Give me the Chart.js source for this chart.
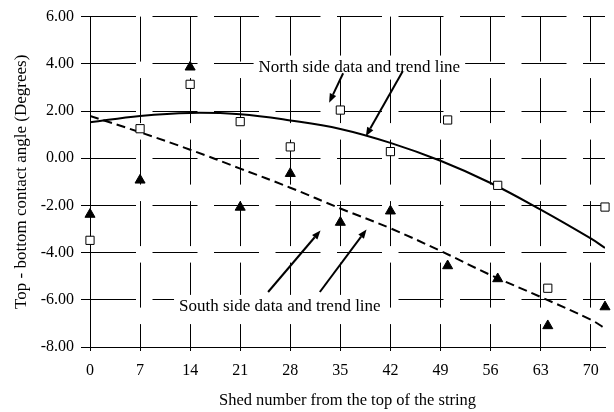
<!DOCTYPE html>
<html>
<head>
<meta charset="utf-8">
<script src="https://cdn.jsdelivr.net/npm/chart.js@4.4.1/dist/chart.umd.min.js"></script>
<style>
html,body{margin:0;padding:0;background:#fff;}
#wrap{width:614px;height:412px;}
</style>
</head>
<body>
<div id="wrap"><canvas id="c" width="614" height="412"></canvas></div>
<script>
// ---- data ----
const shedNumbers = [0, 7, 14, 21, 28, 35, 42, 50, 57, 64, 72];
const northValues = [-3.48, 1.25, 3.13, 1.55, 0.48, 2.04, 0.28, 1.62, -1.15, -5.51, -2.07];
const southValues = [-2.38, -0.93, 3.86, -2.08, -0.65, -2.72, -2.24, -4.56, -5.11, -7.10, -6.30];

const trendX = [0, 7, 14, 21, 28, 35, 42, 49, 56, 63, 70, 72];
const northTrend = [1.52, 1.79, 1.92, 1.86, 1.60, 1.24, 0.65, -0.11, -1.05, -2.18, -3.40, -3.80];
const southTrend = [1.79, 1.10, 0.36, -0.44, -1.25, -2.13, -2.97, -3.93, -4.95, -5.88, -6.84, -7.21];

const xTickLabels = [0, 7, 14, 21, 28, 35, 42, 49, 56, 63, 70];
const yTickLabels = [6, 4, 2, 0, -2, -4, -6, -8];

const xTitle = 'Shed number from the top of the string';
const yTitle = 'Top - bottom contact angle (Degrees)';

const noteTexts = ['North side data and trend line', 'South side data and trend line'];
const notePos = [[37.66, 3.84], [26.54, -6.30]];
const arrowStarts = [[35.39, 3.60], [43.70, 3.67], [24.90, -5.67], [32.13, -5.67]];
const arrowTips = [[33.43, 2.35], [38.56, 0.925], [32.23, -3.06], [38.66, -3.02]];

// ---- build chart ----
const FONT = '"Liberation Serif", "Times New Roman", serif';
const pts = (xs, ys) => xs.map((x, i) => ({x: x, y: ys[i]}));

const notesPlugin = {
  id: 'notes',
  beforeDatasetsDraw(chart) {
    const {ctx, scales: {x, y}} = chart;
    ctx.save();
    ctx.font = '17px ' + FONT;
    noteTexts.forEach((t, i) => {
      const px = x.getPixelForValue(notePos[i][0]);
      const py = y.getPixelForValue(notePos[i][1]);
      const w = ctx.measureText(t).width;
      ctx.fillStyle = '#fff';
      ctx.fillRect(px - w / 2 - 5, py - 12, w + 10, 24);
      ctx.fillStyle = '#000';
      ctx.textAlign = 'center';
      ctx.textBaseline = 'middle';
      ctx.fillText(t, px, py);
    });
    ctx.restore();
  },
  afterDatasetsDraw(chart) {
    const {ctx, scales: {x, y}} = chart;
    ctx.save();
    ctx.strokeStyle = '#000';
    ctx.fillStyle = '#000';
    ctx.lineWidth = 2;
    arrowStarts.forEach((s, i) => {
      const x1 = x.getPixelForValue(s[0]), y1 = y.getPixelForValue(s[1]);
      const x2 = x.getPixelForValue(arrowTips[i][0]), y2 = y.getPixelForValue(arrowTips[i][1]);
      const ang = Math.atan2(y2 - y1, x2 - x1);
      const hl = 9, hw = 3.5;
      const bx = x2 - hl * Math.cos(ang), by = y2 - hl * Math.sin(ang);
      ctx.beginPath();
      ctx.moveTo(x1, y1);
      ctx.lineTo(bx, by);
      ctx.stroke();
      ctx.beginPath();
      ctx.moveTo(x2, y2);
      ctx.lineTo(bx + hw * Math.sin(ang), by - hw * Math.cos(ang));
      ctx.lineTo(bx - hw * Math.sin(ang), by + hw * Math.cos(ang));
      ctx.closePath();
      ctx.fill();
    });
    ctx.restore();
  }
};

const gridOpts = (tl) => ({color: '#000', lineWidth: 1, tickLength: tl, tickBorderDash: [], tickColor: '#000'});
const borderOpts = {display: true, color: '#000', width: 1, dash: [45, 16.5], dashOffset: 0};

new Chart(document.getElementById('c'), {
  type: 'scatter',
  data: {
    datasets: [
      {
        label: 'North side',
        data: pts(shedNumbers, northValues),
        pointStyle: 'rect',
        pointRadius: 5.8,
        pointBackgroundColor: '#fff',
        pointBorderColor: '#000',
        pointBorderWidth: 1,
        showLine: false,
        clip: false,
        order: 0
      },
      {
        label: 'South side',
        data: pts(shedNumbers, southValues),
        pointStyle: 'triangle',
        pointRadius: 5.8,
        pointBackgroundColor: '#000',
        pointBorderColor: '#000',
        pointBorderWidth: 1,
        showLine: false,
        clip: false,
        order: 0
      },
      {
        label: 'North trend',
        data: pts(trendX, northTrend),
        showLine: true,
        borderColor: '#000',
        borderWidth: 2,
        pointRadius: 0,
        tension: 0.4,
        fill: false,
        order: 1
      },
      {
        label: 'South trend',
        data: pts(trendX, southTrend),
        showLine: true,
        borderColor: '#000',
        borderWidth: 2,
        borderDash: [9, 5],
        pointRadius: 0,
        tension: 0.4,
        fill: false,
        order: 1
      }
    ]
  },
  options: {
    responsive: false,
    animation: false,
    events: [],
    layout: {padding: {left: 0, right: 9, top: 12, bottom: 0}},
    plugins: {legend: {display: false}, tooltip: {enabled: false}},
    scales: {
      x: {
        type: 'linear',
        min: 0,
        max: 72,
        afterBuildTicks(s) { s.ticks = xTickLabels.map(v => ({value: v})); },
        afterFit(s) { s.height = 65; },
        grid: gridOpts(4),
        border: borderOpts,
        ticks: {color: '#000', font: {family: FONT, size: 16}, padding: 10, maxRotation: 0, autoSkip: false},
        title: {display: true, text: xTitle, color: '#000', font: {family: FONT, size: 16.5}, padding: {top: 0, bottom: 1}}
      },
      y: {
        type: 'linear',
        min: -8,
        max: 6,
        afterBuildTicks(s) { s.ticks = yTickLabels.map(v => ({value: v})); },
        afterFit(s) { s.width = 90; },
        grid: gridOpts(9),
        border: borderOpts,
        ticks: {color: '#000', font: {family: FONT, size: 16}, padding: 7, callback: v => Number(v).toFixed(2)},
        title: {display: true, text: yTitle, color: '#000', font: {family: FONT, size: 17}, padding: {top: 11, bottom: 0}}
      }
    }
  },
  plugins: [notesPlugin]
});
</script>
</body>
</html>
